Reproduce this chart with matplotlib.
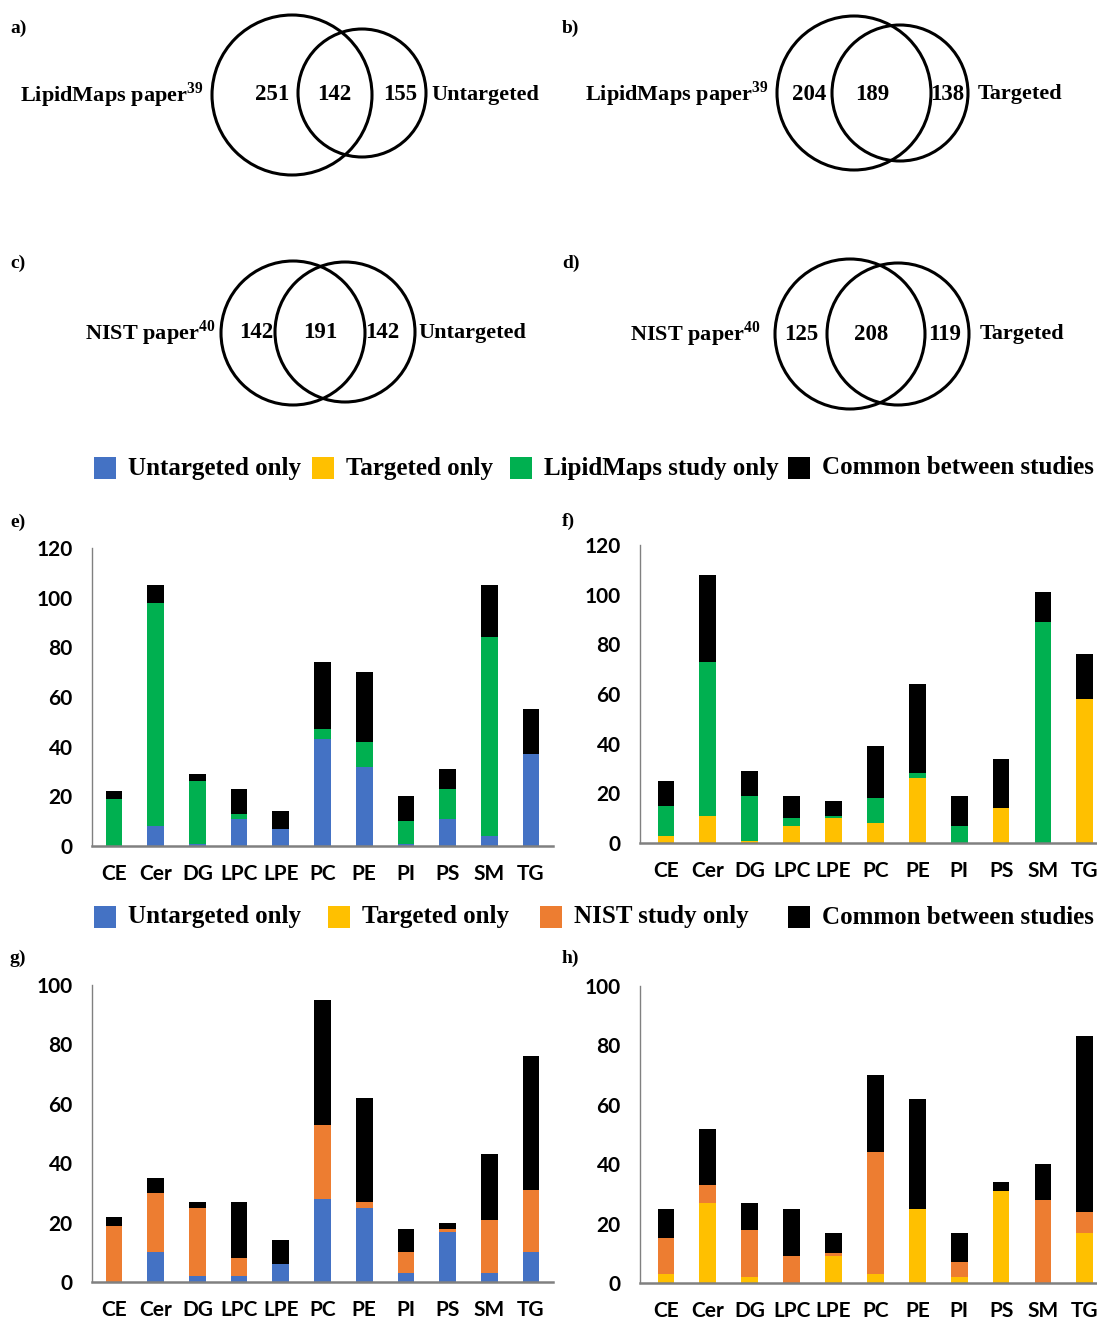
import matplotlib
matplotlib.use("Agg")
import matplotlib.pyplot as plt
from matplotlib.patches import Circle, Rectangle
import numpy as np

plt.rcParams.update({
    "mathtext.fontset": "custom",
    "mathtext.rm": "Liberation Serif:bold",
    "mathtext.bf": "Liberation Serif:bold",
})

W, H = 1097, 1321

classes = ["CE", "Cer", "DG", "LPC", "LPE", "PC", "PE", "PI", "PS", "SM", "TG"]

# e) LipidMaps vs untargeted
e_untargeted = [0, 8, 1, 11, 7, 43, 32, 1, 11, 4, 37]
e_lipidmaps = [19, 90, 25, 2, 0, 4, 10, 9, 12, 80, 0]
e_common = [3, 7, 3, 10, 7, 27, 28, 10, 8, 21, 18]

# f) LipidMaps vs targeted
f_targeted = [3, 11, 1, 7, 10, 8, 26, 0, 14, 0, 58]
f_lipidmaps = [12, 62, 18, 3, 1, 10, 2, 7, 0, 89, 0]
f_common = [10, 35, 10, 9, 6, 21, 36, 12, 20, 12, 18]

# g) NIST vs untargeted
g_untargeted = [0, 10, 2, 2, 6, 28, 25, 3, 17, 3, 10]
g_nist = [19, 20, 23, 6, 0, 25, 2, 7, 1, 18, 21]
g_common = [3, 5, 2, 19, 8, 42, 35, 8, 2, 22, 45]

# h) NIST vs targeted
h_targeted = [3, 27, 2, 0, 9, 3, 25, 2, 31, 0, 17]
h_nist = [12, 6, 16, 9, 1, 41, 0, 5, 0, 28, 7]
h_common = [10, 19, 9, 16, 7, 26, 37, 10, 3, 12, 59]

# Venn counts: (left only, overlap, right only)
venn_a = [251, 142, 155]
venn_b = [204, 189, 138]
venn_c = [142, 191, 142]
venn_d = [125, 208, 119]

BLUE, YELLOW, GREEN, ORANGE, BLACK = "#4472C4", "#FFC000", "#00B050", "#ED7D31", "#000000"
SERIF = "Liberation Serif"
SANS = "Lato"

fig = plt.figure(figsize=(W / 100, H / 100), dpi=100)

# overlay in pixel coordinates for venns, legends and panel letters
ov = fig.add_axes([0, 0, 1, 1])
ov.set_xlim(0, W)
ov.set_ylim(H, 0)
ov.axis("off")


def venn(c1, r1, c2, r2, counts, xs, y, left_lab, lx, right_lab, rx):
    ov.add_patch(Circle(c1, r1, fill=False, ec="black", lw=2.2))
    ov.add_patch(Circle(c2, r2, fill=False, ec="black", lw=2.2))
    for n, x in zip(counts, xs):
        ov.text(x, y, str(n), ha="center", va="center", family=SERIF,
                weight="bold", fontsize=16.5)
    ov.text(lx, y, left_lab, ha="right", va="center", family=SERIF,
            weight="bold", fontsize=16)
    ov.text(rx, y, right_lab, ha="left", va="center", family=SERIF,
            weight="bold", fontsize=16)


venn((292, 95), 80, (362, 93), 64, venn_a, [272, 334, 400], 95,
     r"LipidMaps paper$^{39}$", 203, "Untargeted", 431)
venn((854, 93), 77, (900, 93), 68, venn_b, [809, 872, 947], 94,
     r"LipidMaps paper$^{39}$", 768, "Targeted", 978)
venn((293, 333), 72, (345, 332), 70, venn_c, [256, 320, 382], 333,
     r"NIST paper$^{40}$", 215, "Untargeted", 418)
venn((850, 334), 75, (898, 334), 71, venn_d, [801, 871, 945], 334,
     r"NIST paper$^{40}$", 760, "Targeted", 980)

for lab, x, y in [("a)", 10, 28), ("b)", 562, 28), ("c)", 10, 263), ("d)", 562, 263),
                  ("e)", 10, 522), ("f)", 562, 521), ("g)", 10, 958), ("h)", 562, 958)]:
    ov.text(x, y, lab, ha="left", va="center", family=SERIF, weight="bold", fontsize=14)


def legend_row(y, items):
    for color, label, x in items:
        ov.add_patch(Rectangle((x, y - 11), 22, 22, fc=color, ec="none"))
        ov.text(x + 34, y, label, ha="left", va="center", family=SERIF,
                weight="bold", fontsize=18)


legend_row(468, [(BLUE, "Untargeted only", 94), (YELLOW, "Targeted only", 312),
                 (GREEN, "LipidMaps study only", 510), (BLACK, "Common between studies", 788)])
legend_row(917, [(BLUE, "Untargeted only", 94), (YELLOW, "Targeted only", 328),
                 (ORANGE, "NIST study only", 540), (BLACK, "Common between studies", 788)])


def bars(rect_px, ylim, xlim, series):
    x0, top, x1, bottom = rect_px
    ax = fig.add_axes([x0 / W, 1 - bottom / H, (x1 - x0) / W, (bottom - top) / H])
    x = np.arange(len(classes))
    base = np.zeros(len(classes))
    for vals, color in series:
        ax.bar(x, vals, 0.4, bottom=base, color=color, zorder=2)
        base = base + np.array(vals)
    ax.set_xlim(*xlim)
    ax.set_ylim(0, ylim)
    ax.set_yticks(np.arange(0, ylim + 1, 20))
    ax.set_xticks(x)
    ax.set_xticklabels(classes)
    ax.tick_params(length=0, labelsize=15, pad=14)
    ax.tick_params(axis="x", pad=13)
    for lbl in ax.get_xticklabels() + ax.get_yticklabels():
        lbl.set_family(SANS)
        lbl.set_weight("bold")
    for s in ["top", "right"]:
        ax.spines[s].set_visible(False)
    ax.spines["left"].set_color("#808080")
    ax.spines["left"].set_linewidth(1.0)
    ax.spines["bottom"].set_color("#808080")
    ax.spines["bottom"].set_linewidth(1.8)
    ax.patch.set_alpha(0)
    return ax


bars((92, 548, 553, 846), 120, (-0.53, 10.53),
     [(e_untargeted, BLUE), (e_lipidmaps, GREEN), (e_common, BLACK)])
bars((640, 545, 1097, 843), 120, (-0.62, 10.29),
     [(f_targeted, YELLOW), (f_lipidmaps, GREEN), (f_common, BLACK)])
bars((92, 985, 553, 1282), 100, (-0.53, 10.53),
     [(g_untargeted, BLUE), (g_nist, ORANGE), (g_common, BLACK)])
bars((640, 986, 1097, 1283), 100, (-0.62, 10.29),
     [(h_targeted, YELLOW), (h_nist, ORANGE), (h_common, BLACK)])

fig.savefig("out.png", dpi=100)
